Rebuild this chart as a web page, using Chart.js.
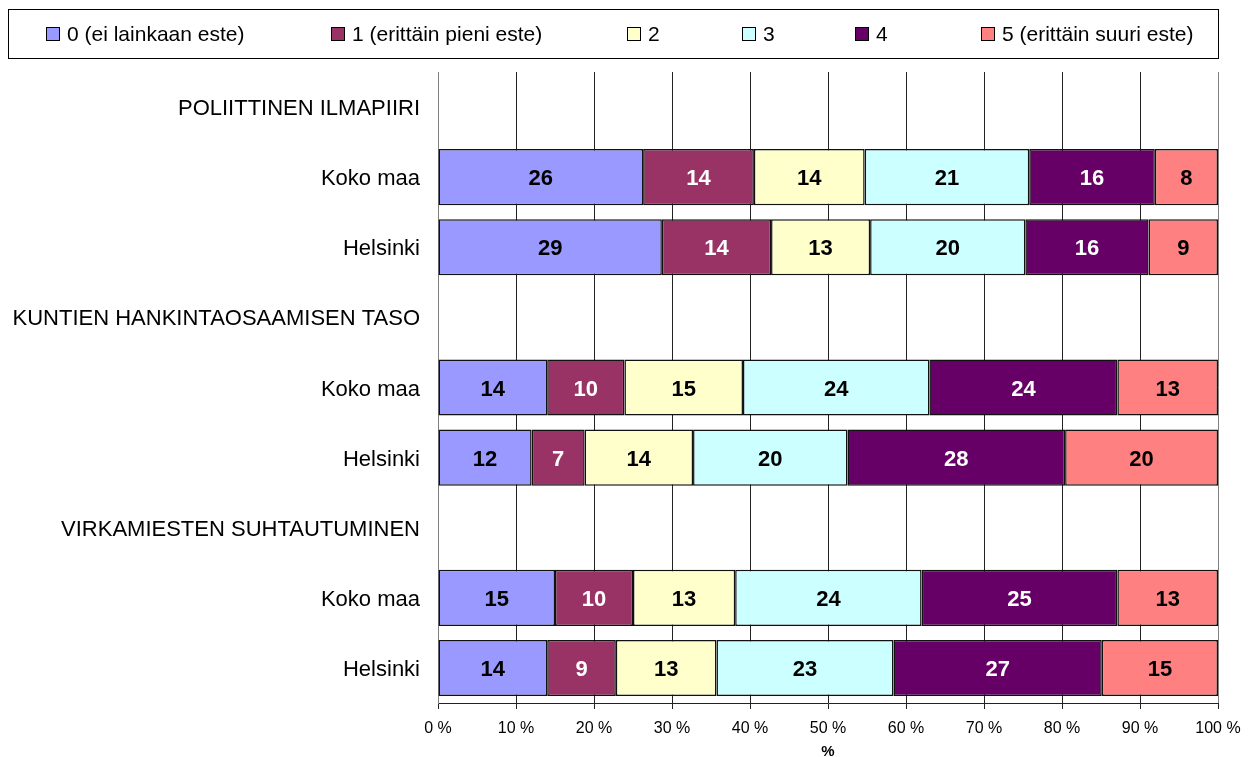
<!DOCTYPE html>
<html>
<head>
<meta charset="utf-8">
<script src="https://cdn.jsdelivr.net/npm/chart.js@4"></script>
<style>
  html, body { margin: 0; padding: 0; background: #fff; }
</style>
</head>
<body>
<canvas id="graph" width="1251" height="757"></canvas>
<script>
// Rows of the chart (heading rows have no bar)
const categories = [
  'POLIITTINEN ILMAPIIRI', 'Koko maa', 'Helsinki',
  'KUNTIEN HANKINTAOSAAMISEN TASO', 'Koko maa', 'Helsinki',
  'VIRKAMIESTEN SUHTAUTUMINEN', 'Koko maa', 'Helsinki'
];
const seriesNames = ['0 (ei lainkaan este)', '1 (erittäin pieni este)', '2', '3', '4', '5 (erittäin suuri este)'];

// Share of answers in %, one value per row
const level0 = [null, 26.3, 28.7, null, 14.0, 12.0, null, 15.0, 14.0];
const level1 = [null, 14.2, 14.0, null, 9.9, 6.8, null, 10.0, 8.8];
const level2 = [null, 14.2, 12.7, null, 15.2, 13.9, null, 13.1, 12.9];
const level3 = [null, 21.1, 19.9, null, 23.9, 19.8, null, 23.9, 22.7];
const level4 = [null, 16.1, 15.8, null, 24.1, 27.9, null, 25.1, 26.7];
const level5 = [null, 8.1, 8.9, null, 12.9, 19.6, null, 12.9, 14.9];

const xTicks = [0, 10, 20, 30, 40, 50, 60, 70, 80, 90, 100];

const seriesValues = [level0, level1, level2, level3, level4, level5];
const colors = ['#9999FF', '#993366', '#FFFFCC', '#CCFFFF', '#660066', '#FF8080'];
const labelColors = ['#000', '#fff', '#000', '#000', '#fff', '#000'];
const FONT = "'Liberation Sans', Arial, sans-serif";

// Legend drawn in a framed box like the original
const legendItemX = [46, 331, 627, 742, 855, 981];
const boxLegend = {
  id: 'boxLegend',
  afterDraw(chart) {
    const ctx = chart.ctx;
    ctx.save();
    ctx.strokeStyle = '#000';
    ctx.lineWidth = 1;
    ctx.strokeRect(8.5, 9.5, 1210, 49);
    chart.data.datasets.forEach((ds, i) => {
      const x = legendItemX[i];
      const y = 34;
      ctx.fillStyle = ds.backgroundColor;
      ctx.fillRect(x, y - 7, 14, 14);
      ctx.strokeRect(x + 0.5, y - 6.5, 13, 13);
      ctx.fillStyle = '#000';
      ctx.font = '21px ' + FONT;
      ctx.textAlign = 'left';
      ctx.textBaseline = 'middle';
      ctx.fillText(ds.label, x + 21, y + 1);
    });
    ctx.restore();
  }
};

// Rounded values inside the bars
const barLabels = {
  id: 'barLabels',
  afterDatasetsDraw(chart) {
    const ctx = chart.ctx;
    ctx.save();
    ctx.font = 'bold 22px ' + FONT;
    ctx.textAlign = 'center';
    ctx.textBaseline = 'middle';
    chart.data.datasets.forEach((ds, i) => {
      const meta = chart.getDatasetMeta(i);
      meta.data.forEach((bar, j) => {
        const v = ds.data[j];
        if (v == null) return;
        const p = bar.getProps(['x', 'y', 'base'], true);
        ctx.fillStyle = labelColors[i];
        ctx.fillText(Math.round(v), (p.x + p.base) / 2, p.y + 2);
      });
    });
    ctx.restore();
  }
};

const ctx = document.getElementById('graph').getContext('2d');
new Chart(ctx, {
  type: 'bar',
  data: {
    labels: categories,
    datasets: seriesValues.map((vals, i) => ({
      label: seriesNames[i],
      data: vals,
      backgroundColor: colors[i],
      borderColor: '#111',
      borderWidth: 1.5,
      borderSkipped: false,
      categoryPercentage: 1,
      barPercentage: 0.8
    }))
  },
  options: {
    indexAxis: 'y',
    responsive: false,
    animation: false,
    layout: { padding: { left: 8, right: 33, top: 72, bottom: 0 } },
    scales: {
      x: {
        stacked: true,
        min: 0,
        max: 100,
        afterBuildTicks: s => { s.ticks = xTicks.map(v => ({ value: v })); },
        afterFit: s => { s.height = 54; },
        grid: {
          color: c => (c.tick && (c.tick.value === 0 || c.tick.value === 100)) ? '#808080' : '#222',
          tickColor: '#222',
          tickLength: 6,
          lineWidth: 1
        },
        border: { display: true, color: '#222', width: 1 },
        ticks: {
          color: '#000',
          padding: 10,
          maxRotation: 0,
          font: { family: FONT, size: 16 },
          callback: v => v + ' %'
        },
        title: {
          display: true,
          text: '%',
          color: '#000',
          padding: { top: 0, bottom: -4 },
          font: { family: FONT, size: 15, weight: 'bold' }
        }
      },
      y: {
        stacked: true,
        afterFit: s => { s.width = 430; },
        grid: { display: false, drawTicks: false },
        border: { display: true, color: '#808080', width: 1 },
        ticks: {
          color: '#000',
          padding: 18,
          labelOffset: 2,
          autoSkip: false,
          font: { family: FONT, size: 22 }
        }
      }
    },
    plugins: {
      legend: { display: false },
      title: { display: false },
      tooltip: { enabled: false }
    }
  },
  plugins: [barLabels, boxLegend]
});
</script>
</body>
</html>
